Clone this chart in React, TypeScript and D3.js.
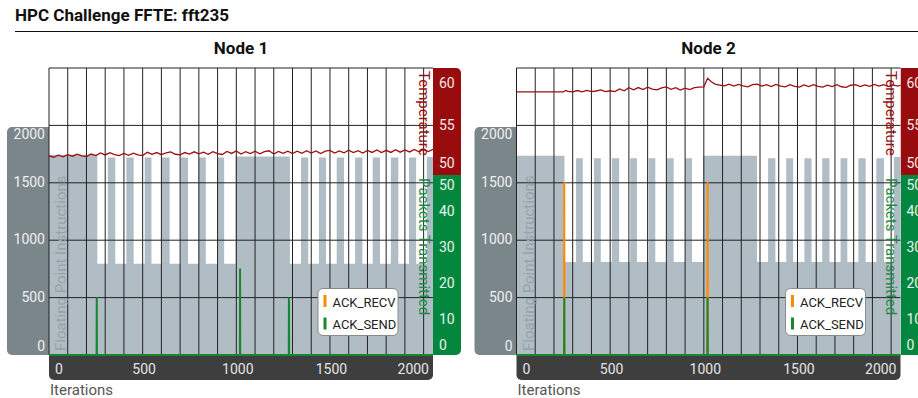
import React from 'react';
import * as d3 from 'd3';

const ITER_MAX = 2050;
const iterTicks = [0, 500, 1000, 1500, 2000];
const fpiTicks = [0, 500, 1000, 1500, 2000];
const tempTicks = [50, 55, 60];
const packetTicks = [0, 10, 20, 30, 40, 50];

// floating point instructions: windows [start, end, value] where the counter runs high
const fpiHigh1: [number, number, number][] = [
  [0, 258, 1745], [314, 354, 1720], [413, 452, 1720], [511, 547, 1720], [603, 644, 1720],
  [703, 742, 1720], [799, 837, 1720], [899, 935, 1720], [996, 1286, 1730], [1345, 1384, 1720],
  [1441, 1479, 1720], [1536, 1575, 1720], [1634, 1673, 1720], [1728, 1767, 1720],
  [1825, 1865, 1720], [1922, 1960, 1720], [2017, 2050, 1725],
];
const fpiLow1 = 795;

const fpiHigh2: [number, number, number][] = [
  [0, 256, 1735], [318, 354, 1713], [414, 450, 1713], [509, 548, 1713], [607, 643, 1713],
  [705, 741, 1713], [803, 839, 1713], [901, 937, 1713], [996, 1284, 1735], [1343, 1382, 1713],
  [1440, 1477, 1713], [1537, 1575, 1713], [1632, 1671, 1713], [1730, 1766, 1713],
  [1825, 1864, 1713], [1921, 1962, 1713], [2015, 2050, 1725],
];
const fpiLow2 = 810;

// temperature [iteration, °C]
const temp1: [number, number][] = [
  [0, 52.35], [25, 52.24], [50, 52.42], [75, 52.27], [100, 52.47], [125, 52.33], [150, 52.5],
  [175, 52.36], [200, 52.3], [225, 52.52], [250, 52.38], [275, 52.62], [300, 52.44], [325, 52.64],
  [350, 52.47], [375, 52.38], [400, 52.57], [425, 52.41], [450, 52.6], [475, 52.44], [500, 52.38],
  [525, 52.67], [550, 52.5], [575, 52.65], [600, 52.46], [625, 52.63], [650, 52.7], [675, 52.5],
  [700, 52.44], [725, 52.65], [750, 52.51], [775, 52.71], [800, 52.53], [825, 52.68], [850, 52.49],
  [875, 52.72], [900, 52.55], [925, 52.48], [950, 52.74], [975, 52.57], [1000, 52.78],
  [1025, 52.52], [1050, 52.72], [1075, 52.56], [1100, 52.76], [1125, 52.54], [1150, 52.72],
  [1175, 52.8], [1200, 52.52], [1225, 52.74], [1250, 52.58], [1275, 52.77], [1300, 52.56],
  [1325, 52.76], [1350, 52.58], [1375, 52.81], [1400, 52.6], [1425, 52.78], [1450, 52.56],
  [1475, 52.77], [1500, 52.83], [1525, 52.6], [1550, 52.79], [1575, 52.62], [1600, 52.85],
  [1625, 52.64], [1650, 52.81], [1675, 52.61], [1700, 52.83], [1725, 52.66], [1750, 52.87],
  [1775, 52.64], [1800, 52.84], [1825, 52.66], [1850, 52.89], [1875, 52.68], [1900, 52.87],
  [1925, 52.7], [1950, 52.91], [1975, 52.72], [2000, 52.93], [2025, 52.74], [2050, 52.92],
];

const temp2: [number, number][] = [
  [0, 57.92], [250, 57.92], [262, 58.05], [275, 57.96], [300, 57.93], [325, 58.04], [350, 57.92],
  [375, 58.06], [400, 57.95], [425, 58.0], [450, 58.09], [475, 57.94], [500, 58.02], [525, 57.95],
  [550, 58.18], [575, 58.02], [600, 58.28], [625, 58.1], [650, 58.3], [675, 58.12], [700, 58.33],
  [725, 58.16], [750, 58.1], [775, 58.27], [800, 58.35], [825, 58.14], [850, 58.29], [875, 58.08],
  [900, 58.25], [925, 58.12], [950, 58.3], [975, 58.34], [1000, 58.36], [1020, 59.1],
  [1040, 58.8], [1060, 58.6], [1085, 58.52], [1110, 58.44], [1135, 58.6], [1160, 58.42],
  [1185, 58.57], [1210, 58.45], [1235, 58.36], [1260, 58.55], [1285, 58.6], [1310, 58.42],
  [1335, 58.55], [1360, 58.38], [1385, 58.57], [1410, 58.43], [1435, 58.36], [1460, 58.55],
  [1485, 58.41], [1510, 58.34], [1535, 58.53], [1560, 58.39], [1585, 58.55], [1610, 58.41],
  [1635, 58.34], [1660, 58.51], [1685, 58.39], [1710, 58.55], [1735, 58.37], [1760, 58.32],
  [1785, 58.5], [1810, 58.55], [1835, 58.39], [1860, 58.53], [1885, 58.41], [1910, 58.57],
  [1935, 58.43], [1960, 58.55], [1985, 58.39], [2010, 58.53], [2035, 58.42], [2050, 58.5],
];

// packets transmitted: [iteration, count] non-zero samples
const ackRecv1: [number, number][] = [];
const ackSend1: [number, number][] = [[255, 16], [1020, 24], [1281, 16]];
const ackRecv2: [number, number][] = [[255, 48], [1020, 48]];
const ackSend2: [number, number][] = [[255, 16], [1020, 16]];

const nodes = [
  { title: 'Node 1', left: 49, high: fpiHigh1, low: fpiLow1, temp: temp1, recv: ackRecv1, send: ackSend1 },
  { title: 'Node 2', left: 516.5, high: fpiHigh2, low: fpiLow2, temp: temp2, recv: ackRecv2, send: ackSend2 },
];

const PLOT_W = 384;
const TOP = 68;
const BOTTOM = 355;
const SPLIT = 175; // red / green panel boundary
const LEFT_PANEL_TOP = 127;
const FONT = 'Roboto, "DejaVu Sans", sans-serif';

const COLORS = {
  bars: '#b1bdc4',
  fpiPanel: '#7b868b',
  temp: '#9c0e10',
  tempPanel: '#990c0e',
  pktPanel: '#03873f',
  pktText: '#1b8c48',
  recv: '#ff8a00',
  send: '#18872f',
  axis: '#3e3e3e',
  grid: '#222',
};

function roundRect(x: number, y: number, w: number, h: number, r: [number, number, number, number]) {
  const [tl, tr, br, bl] = r;
  return `M${x + tl},${y}H${x + w - tr}${tr ? `A${tr},${tr} 0 0 1 ${x + w},${y + tr}` : ''}V${y + h - br}` +
    `${br ? `A${br},${br} 0 0 1 ${x + w - br},${y + h}` : ''}H${x + bl}${bl ? `A${bl},${bl} 0 0 1 ${x},${y + h - bl}` : ''}` +
    `V${y + tl}${tl ? `A${tl},${tl} 0 0 1 ${x + tl},${y}` : ''}Z`;
}

function stepSeries(high: [number, number, number][], low: number) {
  const pts: [number, number][] = [];
  let prevEnd = 0;
  high.forEach(([s, e, v]) => {
    if (s > prevEnd) pts.push([prevEnd, low]);
    pts.push([s, v]);
    prevEnd = e;
  });
  if (prevEnd < ITER_MAX) pts.push([prevEnd, low]);
  pts.push([ITER_MAX, pts[pts.length - 1][1]]);
  return pts;
}

function spikeSeries(samples: [number, number][]) {
  const pts: [number, number][] = [[0, 0]];
  samples.forEach(([i, v]) => {
    pts.push([i - 1, 0], [i, v], [i + 1, 0]);
  });
  pts.push([ITER_MAX, 0]);
  return pts;
}

const clamp = (v: number, lo: number, hi: number) => Math.max(lo, Math.min(hi, v));

const NodePanel: React.FC<{ node: typeof nodes[number] }> = ({ node }) => {
  const left = node.left;
  const right = left + PLOT_W;

  const x = d3.scaleLinear().domain([0, ITER_MAX]).range([left, right]);
  const yFpi = d3.scaleLinear().domain([0, 2500]).range([BOTTOM, TOP]);
  const yTemp = d3.scaleLinear().domain([50, 60]).range([183, TOP]);
  const yPkt = d3.scaleLinear().domain([0, 50]).range([BOTTOM, SPLIT]);

  const area = d3.area<[number, number]>()
    .x(d => x(d[0]))
    .y0(yFpi(0))
    .y1(d => yFpi(d[1]))
    .curve(d3.curveStepAfter);
  const tempLine = d3.line<[number, number]>().x(d => x(d[0])).y(d => yTemp(d[1]));
  const pktLine = d3.line<[number, number]>().x(d => x(d[0])).y(d => yPkt(d[1]));

  const vGrid = d3.range(100, ITER_MAX, 100);
  const hGrid = [500, 1000, 1500, 2000];

  return (
    <g fontFamily={FONT}>
      <text x={(left + right) / 2} y={54} textAnchor="middle" fontSize={17} fontWeight={700} fill="#111">
        {node.title}
      </text>

      {/* side panels */}
      <path d={roundRect(left - 42, LEFT_PANEL_TOP, 42, BOTTOM - LEFT_PANEL_TOP, [5, 0, 0, 5])} fill={COLORS.fpiPanel} />
      <path d={roundRect(right, TOP, 28, SPLIT - TOP, [0, 5, 0, 0])} fill={COLORS.tempPanel} />
      <path d={roundRect(right, SPLIT, 28, BOTTOM - SPLIT, [0, 0, 5, 0])} fill={COLORS.pktPanel} />
      <path d={roundRect(left, BOTTOM, PLOT_W, 25, [0, 0, 5, 5])} fill={COLORS.axis} />

      {/* plot */}
      <rect x={left} y={TOP} width={PLOT_W} height={BOTTOM - TOP} fill="#fff" />
      <path d={area(stepSeries(node.high, node.low)) || ''} fill={COLORS.bars} />

      {vGrid.map(v => (
        <line key={v} x1={x(v)} x2={x(v)} y1={TOP} y2={BOTTOM} stroke={COLORS.grid} strokeWidth={1} />
      ))}
      {hGrid.map(v => (
        <line key={v} x1={left} x2={right} y1={yFpi(v)} y2={yFpi(v)} stroke={COLORS.grid} strokeWidth={1} />
      ))}
      <line x1={left} x2={right} y1={TOP} y2={TOP} stroke={COLORS.grid} />
      <line x1={left} x2={left} y1={TOP} y2={BOTTOM} stroke={COLORS.grid} />

      <path d={tempLine(node.temp) || ''} fill="none" stroke={COLORS.temp} strokeWidth={1.3} />
      <path d={pktLine(spikeSeries(node.recv)) || ''} fill="none" stroke={COLORS.recv} strokeWidth={2} />
      <path d={pktLine(spikeSeries(node.send)) || ''} fill="none" stroke={COLORS.send} strokeWidth={2} />

      {/* axis titles */}
      <text transform={`translate(${left + 17},351) rotate(-90)`} fontSize={15} fill="#98a2a8">
        Floating Point Instructions
      </text>
      <text transform={`translate(${right - 14.5},71) rotate(90)`} fontSize={15} fill={COLORS.temp}>
        Temperature
      </text>
      <text transform={`translate(${right - 14.5},178) rotate(90)`} fontSize={15} fill={COLORS.pktText}>
        Packets Transmitted
      </text>

      {/* tick labels */}
      {fpiTicks.map(v => (
        <text key={v} x={left - 4} y={clamp(yFpi(v), LEFT_PANEL_TOP + 8, BOTTOM - 8) - 1} dy="0.35em"
          textAnchor="end" fontSize={14} fill="#eef0f1">{v}</text>
      ))}
      {tempTicks.map(v => (
        <text key={v} x={right + 6} y={clamp(yTemp(v), TOP + 15, SPLIT - 12)} dy="0.35em"
          fontSize={14} fill="#f3e6e6">{v}</text>
      ))}
      {packetTicks.map(v => (
        <text key={v} x={right + 6} y={clamp(yPkt(v), SPLIT + 10, BOTTOM - 10)} dy="0.35em"
          fontSize={14} fill="#e6f3ea">{v}</text>
      ))}
      {iterTicks.map(v => {
        const anchor = v === 0 ? 'start' : v === 2000 ? 'end' : 'middle';
        const tx = v === 0 ? left + 6 : v === 2000 ? right - 4 : x(v) + 1.5;
        return (
          <text key={v} x={tx} y={374} textAnchor={anchor} fontSize={14} fill="#e4e4e4">{v}</text>
        );
      })}
      <text x={left + 1} y={394.5} fontSize={15} fill="#555">Iterations</text>

      {/* legend */}
      <g transform={`translate(${left + 269},288.5)`}>
        <rect width={80} height={47} rx={5} fill="#fff" stroke="#8a8a8a" />
        <rect x={5.5} y={6.5} width={3} height={12} fill={COLORS.recv} />
        <text x={14.5} y={18} fontSize={13} fill="#222">ACK_RECV</text>
        <rect x={5.5} y={29} width={3} height={12} fill={COLORS.send} />
        <text x={14.5} y={40.5} fontSize={13} fill="#222">ACK_SEND</text>
      </g>
    </g>
  );
};

export default function App() {
  return (
    <div style={{ position: 'absolute', left: 0, top: 0, width: 918, height: 398, background: '#fff' }}>
      <svg width={918} height={398} style={{ display: 'block' }}>
        <text x={15} y={21} fontFamily={FONT} fontSize={17} fontWeight={700} fill="#111">
          HPC Challenge FFTE: fft235
        </text>
        <line x1={15} x2={918} y1={31.5} y2={31.5} stroke="#111" strokeWidth={1} />
        {nodes.map(n => <NodePanel key={n.title} node={n} />)}
      </svg>
    </div>
  );
}
